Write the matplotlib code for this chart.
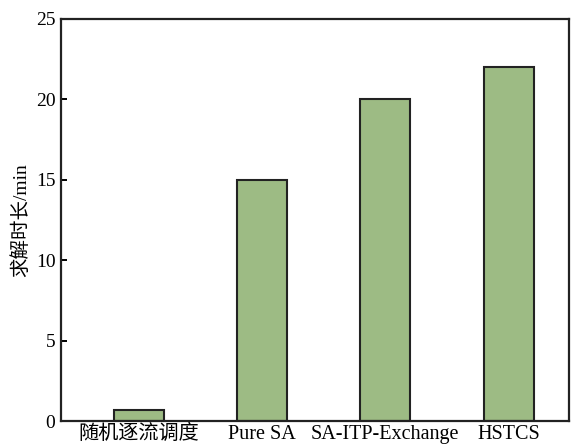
import matplotlib
matplotlib.use("Agg")
import matplotlib.pyplot as plt

categories = ["随机逐流调度", "Pure SA", "SA-ITP-Exchange", "HSTCS"]
values = [0.7, 15, 20, 22]
yticks = [0, 5, 10, 15, 20, 25]

plt.rcParams['font.family'] = ['Liberation Serif', 'Noto Sans CJK SC']

fig = plt.figure(figsize=(5.72, 4.47), dpi=100)
ax = fig.add_axes([61/572, 26/447, (569-61)/572, (421-19)/447])
x = list(range(len(categories)))
ax.bar(x, values, width=0.405, color='#9dbb84', edgecolor='#222222', linewidth=1.5)
ax.set_xlim(-0.63, 3.49)
ax.set_ylim(0, 25)
ax.set_yticks(yticks)
ax.set_yticklabels([str(t) for t in yticks], fontsize=14)
ax.set_xticks(x)
ax.set_xticklabels(categories, fontsize=14.5)
ax.tick_params(axis='y', direction='in', length=4, width=1.4, pad=4)
ax.tick_params(axis='x', length=0, pad=3)
for s in ax.spines.values():
    s.set_linewidth(1.6)
    s.set_color('#222222')
ax.set_ylabel("求解时长/min", fontsize=14, labelpad=4)
fig.savefig("out.png", dpi=100)
